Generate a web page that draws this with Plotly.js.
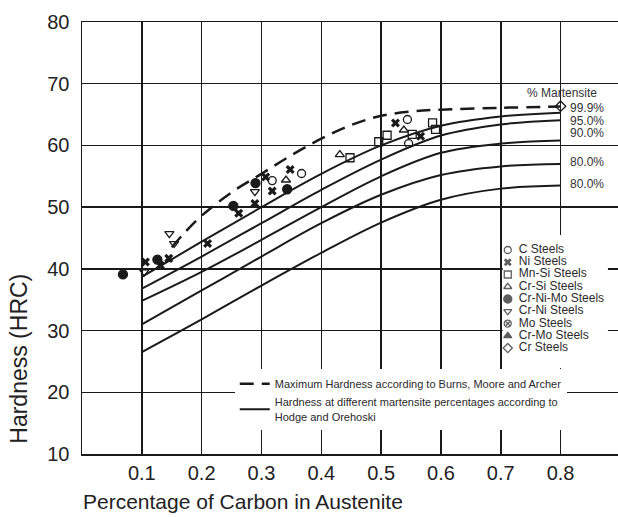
<!DOCTYPE html>
<html>
<head>
<meta charset="utf-8">
<script src="https://cdn.plot.ly/plotly-3.0.1.min.js"></script>
<style>html,body{margin:0;padding:0;background:#fff;}#chart{width:618px;height:517px;}</style>
</head>
<body>
<div id="chart"></div>
<script>
// ---------- data ----------
const xTicks = [0.1, 0.2, 0.3, 0.4, 0.5, 0.6, 0.7, 0.8];
const xTickText = ['0.1', '0.2', '0.3', '0.4', '0.5', '0.6', '0.7', '0.8'];
const yTicks = [10, 20, 30, 40, 50, 60, 70, 80];

// Burns, Moore and Archer maximum hardness (dashed)
const bmaX = [0.15, 0.17, 0.2, 0.25, 0.3, 0.35, 0.4, 0.45, 0.5, 0.55, 0.6, 0.7, 0.8];
const bmaY = [43.5, 45.7, 48.6, 52.4, 55.4, 58.4, 61.1, 63.3, 64.8, 65.5, 65.8, 66.1, 66.3];

// Hodge and Orehoski curves (solid)
const hoX = [0.1, 0.2, 0.3, 0.4, 0.5, 0.6, 0.7, 0.8];
const ho999 = [38.7, 44.4, 50.0, 55.4, 60.0, 63.2, 64.7, 65.3];
const ho950 = [36.8, 42.0, 47.4, 52.8, 57.7, 61.6, 63.4, 64.1];
const ho900 = [34.8, 39.5, 44.7, 50.0, 55.0, 58.8, 60.3, 60.8];
const ho800a = [31.0, 36.5, 42.0, 47.4, 52.0, 55.2, 56.6, 57.0];
const ho800b = [26.5, 31.8, 37.3, 42.6, 47.5, 51.2, 53.0, 53.5];
const curveLabels = ['99.9%', '95.0%', '90.0%', '80.0%', '80.0%'];

// Steel data points
const steelTypes = ['C Steels', 'Ni Steels', 'Mn-Si Steels', 'Cr-Si Steels', 'Cr-Ni-Mo Steels',
                    'Cr-Ni Steels', 'Mo Steels', 'Cr-Mo Steels', 'Cr Steels'];
const cX = [0.318, 0.367, 0.544, 0.546];
const cY = [54.3, 55.45, 64.2, 60.3];
const niX = [0.106, 0.131, 0.145, 0.21, 0.262, 0.289, 0.307, 0.318, 0.348, 0.524, 0.566];
const niY = [41.1, 40.6, 41.7, 44.1, 49.0, 50.6, 54.9, 52.6, 56.1, 63.65, 61.5];
const mnsiX = [0.448, 0.496, 0.51, 0.552, 0.586, 0.591];
const mnsiY = [58.0, 60.6, 61.65, 61.8, 63.65, 62.6];
const crsiX = [0.341, 0.431, 0.538];
const crsiY = [54.4, 58.5, 62.5];
const crnimoX = [0.0685, 0.126, 0.253, 0.29, 0.343];
const crnimoY = [39.1, 41.5, 50.2, 53.9, 52.9];
const crniX = [0.104, 0.146, 0.154, 0.289];
const crniY = [39.5, 45.7, 44.1, 52.5];
const moX = [];
const moY = [];
const crmoX = [];
const crmoY = [];
const crX = [0.8];
const crY = [66.35];

// ---------- styles ----------
const INK = '#1a1a1a';
const FONT = 'Liberation Sans, Arial, sans-serif';
const symbols = ['circle-open', 'x', 'square-open', 'triangle-up-open', 'circle',
                 'triangle-down-open', 'circle-x-open', 'triangle-up', 'diamond-open'];
const sizes = [8, 8, 8, 8, 9, 8, 8, 8, 8];
const seriesX = [cX, niX, mnsiX, crsiX, crnimoX, crniX, moX, crmoX, crX];
const seriesY = [cY, niY, mnsiY, crsiY, crnimoY, crniY, moY, crmoY, crY];

const traces = [];
traces.push({
  x: bmaX, y: bmaY, type: 'scatter', mode: 'lines', line: {shape: 'spline', color: INK, width: 2.5, dash: '14px,8px'},
  name: 'Maximum Hardness according to Burns, Moore and Archer', showlegend: true, hoverinfo: 'skip'
});
[ho999, ho950, ho900, ho800a, ho800b].forEach((yy, i) => {
  traces.push({
    x: hoX, y: yy, type: 'scatter', mode: 'lines', line: {shape: 'spline', color: INK, width: 2},
    name: 'Hardness at different martensite percentages according to<br>Hodge and Orehoski',
    showlegend: i === 0, legendgroup: 'ho', hoverinfo: 'skip'
  });
});
steelTypes.forEach((name, i) => {
  traces.push({
    x: seriesX[i], y: seriesY[i], type: 'scatter', mode: 'markers', name: name, showlegend: false,
    marker: {symbol: symbols[i], size: sizes[i], color: INK, line: {color: INK, width: symbols[i] === 'x' ? 0 : 1.3}}
  });
});
// custom compact marker key (own small subplot)
traces.push({
  x: steelTypes.map(() => 5), y: steelTypes.map((_, i) => i), xaxis: 'x2', yaxis: 'y2',
  type: 'scatter', mode: 'markers',
  marker: {symbol: symbols, size: sizes.map(s => s - 1), color: INK,
           line: {color: INK, width: symbols.map(s => s === 'x' ? 0 : 1.3)}},
  showlegend: false, hoverinfo: 'skip', cliponaxis: false
});
traces.push({
  x: steelTypes.map(() => 16), y: steelTypes.map((_, i) => i), xaxis: 'x2', yaxis: 'y2',
  type: 'scatter', mode: 'text', text: steelTypes, textposition: 'middle right',
  textfont: {family: FONT, size: 12, color: '#2a2a2a'},
  showlegend: false, hoverinfo: 'skip', cliponaxis: false
});

const labelY = [66.0, 64.0, 62.0, 57.3, 53.8];
const annotations = curveLabels.map((t, i) => ({
  x: 0.812, y: labelY[i], xref: 'x', yref: 'y', text: t, showarrow: false, xanchor: 'left', yanchor: 'middle',
  font: {family: FONT, size: 12, color: '#333'}
}));
annotations.push({
  x: 0.803, y: 68.5, xref: 'x', yref: 'y', text: '% Martensite', showarrow: false, xanchor: 'center', yanchor: 'middle',
  font: {family: FONT, size: 12, color: '#333'}
});
annotations.push({
  x: -0.118, y: 0.22, xref: 'paper', yref: 'paper', text: 'Hardness (HRC)', textangle: -90, showarrow: false,
  xanchor: 'center', yanchor: 'middle', font: {family: FONT, size: 23, color: '#222'}
});
annotations.push({
  x: -0.002, y: -0.11, xref: 'paper', yref: 'paper', text: 'Percentage of Carbon in Austenite', showarrow: false,
  xanchor: 'left', yanchor: 'middle', font: {family: FONT, size: 21, color: '#222'}
});

const layout = {
  width: 618, height: 517,
  margin: {l: 82, r: 0, t: 22, b: 63},
  paper_bgcolor: '#fff', plot_bgcolor: '#fff',
  font: {family: FONT, color: '#222'},
  showlegend: true,
  legend: {x: 0.285, y: 0.196, xanchor: 'left', yanchor: 'top', bgcolor: '#fff', borderwidth: 0,
           font: {size: 11, color: '#2a2a2a'}, tracegroupgap: 0, itemwidth: 30},
  xaxis: {range: [0, 0.896], tickvals: xTicks, ticktext: xTickText, showgrid: true, gridcolor: INK, gridwidth: 1.5,
          showline: true, linecolor: INK, linewidth: 1.5, mirror: true, zeroline: false, ticks: '',
          tickfont: {size: 20, color: '#222'}, ticklabelstandoff: 0, fixedrange: true},
  yaxis: {range: [10, 80], tickvals: yTicks, showgrid: true, gridcolor: INK, gridwidth: 1.5,
          showline: true, linecolor: INK, linewidth: 1.5, zeroline: false, ticks: '',
          tickfont: {size: 20, color: '#222'}, ticklabelstandoff: 7, fixedrange: true},
  xaxis2: {domain: [0.785, 0.981], range: [0, 105], visible: false, anchor: 'y2', fixedrange: true},
  yaxis2: {domain: [0.199, 0.507], range: [9.63, -1.224], visible: false, anchor: 'x2', fixedrange: true},
  shapes: [{type: 'rect', xref: 'x2', yref: 'y2', x0: 0, x1: 105, y0: 9.63, y1: -1.224,
            fillcolor: '#fff', line: {width: 0}, layer: 'below'}],
  annotations: annotations
};

Plotly.newPlot('chart', traces, layout, {displayModeBar: false, staticPlot: true});
</script>
</body>
</html>
